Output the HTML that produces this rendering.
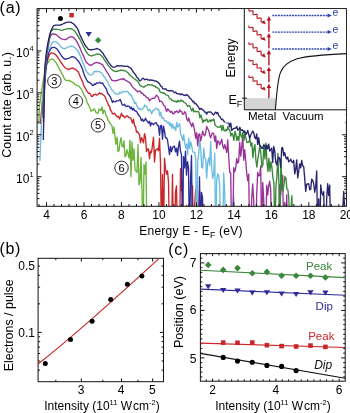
<!DOCTYPE html><html><head><meta charset="utf-8"><style>html,body{margin:0;padding:0;background:#fff;}svg{display:block;will-change:transform}</style></head><body>
<svg xmlns="http://www.w3.org/2000/svg" width="350" height="413" viewBox="0 0 350 413" font-family='"Liberation Sans", sans-serif'>
<rect width="350" height="413" fill="#fff"/>
<defs><clipPath id="ca"><rect x="37.1" y="8.6" width="309.3" height="197.7"/></clipPath></defs>
<g clip-path="url(#ca)" fill="none" stroke-width="1.35" stroke-linejoin="round">
<path stroke="#6cb43c" d="M38.9 124L39.3 107L41 95L43 82L45 70.05L46 66.86L47 64.19L48 62.76L49 61.38L50 59.74L51 59.37L52 59.05L53 59.4L54 60.31L55 61.44L56 62.4L57 64.36L58 66.24L59 68.35L60 70.14L61 71.92L62 73.87L63 75.56L64 77.88L65 79.57L66 80.45L67 80.42L68 80.74L69 80.28L70 81.37L71 81.23L72 81.93L73 82.83L74 82.96L75 84.87L76 84.98L77 85.64L78 85.82L79 86.08L80 87.64L81 88.55L82 90.57L83 92.41L84 95.02L85 96.54L86 98.41L87 102.32L88 103.89L89 106.26L90 107.95L91 111.34L92 110.48L93 110.4L94 108.75L95 110.24L96 112.38L97 113.03L98 113.33L99 109.06L100 109.45L101 110.63L102 106.86L103 113.77L104 110.12L105 111.23L106 115.83L107 116.6L108 120.23L109 121.4L110 123.21L111 124.7L112 125.81L113 133.31L114 127.27L115 136.87L116 144.2L117 137.16L118 151.52L119 150.68L120 142.48L121 137.69L122 145.74L123 146.94L124 140.69L125 156.92L126 155.53L127 149.69L128 153.6L129 157.76L130 140.39L131 176.68L132 141.96L133 160.12L134 148.93L135 169.7L136 171.11L137 172.46L138 144.61L139 184.75L140 182.55L141 157.47L142 191.15L143 240L144 164.42L145 174.02L146 161.97L147 240L148 240L149 240L150 240L151 240L152 240"/>
<path stroke="#c9262a" d="M40.4 124L42 105L44 85L45.5 69.77L46.5 64.17L47.5 60.27L48.5 57.32L49.5 54.6L50.5 53.74L51.5 52.66L52.5 53.06L53.5 53.47L54.5 53.83L55.5 54.61L56.5 55.75L57.5 56.94L58.5 58.66L59.5 59.9L60.5 61.61L61.5 63.01L62.5 64.41L63.5 65.89L64.5 66.91L65.5 68.19L66.5 68.43L67.5 69.14L68.5 69.56L69.5 68.84L70.5 68.93L71.5 68.22L72.5 68.15L73.5 68.39L74.5 69.18L75.5 69.1L76.5 70.21L77.5 71.35L78.5 72.35L79.5 74.71L80.5 77.46L81.5 79.51L82.5 81.62L83.5 84.79L84.5 86.75L85.5 88.56L86.5 90.32L87.5 91.79L88.5 93.23L89.5 93.15L90.5 94.39L91.5 96.41L92.5 96.54L93.5 94.65L94.5 94.91L95.5 94.1L96.5 94.99L97.5 94.95L98.5 93.95L99.5 92.67L100.5 93.86L101.5 93.27L102.5 94.71L103.5 94.93L104.5 95.97L105.5 97.65L106.5 100.6L107.5 102.08L108.5 105.56L109.5 106.02L110.5 110.51L111.5 111.14L112.5 113.92L113.5 113.73L114.5 113.09L115.5 114.98L116.5 116.12L117.5 116.94L118.5 116.11L119.5 118.94L120.5 116.55L121.5 113.15L122.5 115.98L123.5 115.74L124.5 117.68L125.5 117.04L126.5 115.97L127.5 115.83L128.5 117.45L129.5 117.54L130.5 117.85L131.5 120.06L132.5 123.07L133.5 119.08L134.5 125.65L135.5 126.36L136.5 132.17L137.5 131.54L138.5 133.42L139.5 134.31L140.5 142.72L141.5 137.57L142.5 139.89L143.5 142.92L144.5 133.63L145.5 137.76L146.5 151.61L147.5 149.11L148.5 148.77L149.5 158.64L150.5 151.1L151.5 152.49L152.5 144.85L153.5 137.39L154.5 161.95L155.5 150.01L156.5 149.89L157.5 148.55L158.5 150.71L159.5 138.08L160.5 163.51L161.5 240L162.5 174.55L163.5 240L164.5 158.09L165.5 169.06L166.5 174.11L167.5 170.8L168.5 181.94L169.5 240L170.5 240L171.5 240L172.5 174.51L173.5 240L174.5 240L175.5 192.05L176.5 186.01L177.5 240L178.5 240L179.5 240L180.5 168.66L181.5 190.46L182.5 180.57L183.5 240L184.5 240L185.5 240L186.5 205.36L187.5 240L188.5 240L189.5 240L190.5 240L191.5 240L192.5 185.66L193.5 240L194.5 207.11L195.5 192.72L196.5 186.42L197.5 240L198.5 240L199.5 190.97L200.5 208.16L201.5 240L202.5 240L203.5 240L204.5 210.25L205.5 208.22L206.5 240L207.5 240L208.5 240L209.5 240L210.5 240L211.5 240L212.5 240L213.5 240L214.5 240"/>
<path stroke="#2d2b96" d="M43.5 122L44.5 90L45.5 75.06L46.5 64.27L47.5 57.97L48.5 53.56L49.5 51.09L50.5 49.09L51.5 48.1L52.5 47.41L53.5 47.32L54.5 47.42L55.5 47.98L56.5 48.66L57.5 49.63L58.5 51.24L59.5 52.46L60.5 54.26L61.5 55.94L62.5 56.97L63.5 57.99L64.5 58.99L65.5 58.91L66.5 58.98L67.5 58.58L68.5 58.44L69.5 57.98L70.5 57.5L71.5 56.76L72.5 56.62L73.5 56.99L74.5 57.34L75.5 58L76.5 59.18L77.5 60.34L78.5 61.32L79.5 62.92L80.5 64.75L81.5 66.55L82.5 69.19L83.5 72.59L84.5 75.39L85.5 77.72L86.5 79.61L87.5 81.17L88.5 82.26L89.5 82.37L90.5 83.01L91.5 83.92L92.5 85.64L93.5 85.36L94.5 83.87L95.5 84.36L96.5 82.79L97.5 83.08L98.5 83L99.5 82.24L100.5 83.01L101.5 83.43L102.5 82.84L103.5 84.81L104.5 86.34L105.5 87.74L106.5 89.2L107.5 92.97L108.5 94.24L109.5 95.6L110.5 97.23L111.5 99.81L112.5 102.49L113.5 100.9L114.5 101.91L115.5 101.63L116.5 100.87L117.5 100.87L118.5 100.92L119.5 99.96L120.5 99.74L121.5 103.07L122.5 105.17L123.5 105.06L124.5 104.19L125.5 106.11L126.5 106.46L127.5 105.87L128.5 106.11L129.5 106.52L130.5 108.66L131.5 107.19L132.5 110.15L133.5 108.43L134.5 110.35L135.5 111.13L136.5 111.24L137.5 113.14L138.5 114.98L139.5 115.98L140.5 117.73L141.5 120.67L142.5 119.15L143.5 121.36L144.5 120.41L145.5 118.23L146.5 120.55L147.5 121.5L148.5 123.12L149.5 121.24L150.5 125.95L151.5 122.82L152.5 123.71L153.5 124.66L154.5 123.53L155.5 122.68L156.5 123L157.5 125.68L158.5 125.56L159.5 135.25L160.5 125.9L161.5 125.43L162.5 139.31L163.5 126.14L164.5 131.27L165.5 137.81L166.5 137.75L167.5 139.99L168.5 147.15L169.5 154.65L170.5 146.54L171.5 151.54L172.5 147.71L173.5 146.47L174.5 146.18L175.5 151.93L176.5 148.22L177.5 155.4L178.5 146.39L179.5 141.18L180.5 151.18L181.5 154.91L182.5 240L183.5 156.57L184.5 167.9L185.5 151.27L186.5 175.17L187.5 161.72L188.5 168.16L189.5 240L190.5 181.68L191.5 155.44L192.5 240L193.5 240L194.5 240L195.5 240L196.5 240L197.5 240L198.5 240L199.5 176.98L200.5 240L201.5 192.31L202.5 197.19L203.5 240L204.5 240L205.5 240L206.5 240L207.5 240L208.5 240L209.5 240"/>
<path stroke="#6cbde0" d="M39.9 161L41.2 130L42.5 100L43.5 90L44.5 80L45.7 64.89L46.7 54.92L47.7 50.3L48.7 49.27L49.7 48.48L50.7 45.97L51.7 43.38L52.7 42.53L53.7 41.81L54.7 41.33L55.7 41.75L56.7 42.24L57.7 43.18L58.7 43.95L59.7 45.35L60.7 46.65L61.7 47.71L62.7 48.27L63.7 48.37L64.7 48.73L65.7 48.27L66.7 47.68L67.7 47.05L68.7 46.88L69.7 46.55L70.7 46.09L71.7 46.28L72.7 46.27L73.7 46.99L74.7 47.58L75.7 48.49L76.7 49.55L77.7 50.57L78.7 52.38L79.7 54.37L80.7 56.75L81.7 59.86L82.7 62.41L83.7 64.34L84.7 66.81L85.7 70.2L86.7 71.96L87.7 72.72L88.7 74.01L89.7 74.46L90.7 75.2L91.7 74.85L92.7 73.91L93.7 72.06L94.7 71.45L95.7 71.47L96.7 71.32L97.7 71.5L98.7 71.47L99.7 71.91L100.7 72.28L101.7 73.16L102.7 74.32L103.7 76.33L104.7 76.91L105.7 78.81L106.7 80.37L107.7 81.91L108.7 84.47L109.7 86.44L110.7 87.77L111.7 89.85L112.7 90.11L113.7 91.91L114.7 92.92L115.7 94.05L116.7 93.97L117.7 94.24L118.7 94.12L119.7 92.05L120.7 93.06L121.7 92.92L122.7 91.42L123.7 91.75L124.7 91.45L125.7 91.72L126.7 91.5L127.7 91.48L128.7 93.07L129.7 94.78L130.7 94.54L131.7 96.36L132.7 99.1L133.7 100L134.7 103.49L135.7 102.4L136.7 105.11L137.7 107.24L138.7 109.29L139.7 108.19L140.7 109.47L141.7 109.75L142.7 108.4L143.7 107.75L144.7 104.85L145.7 106.32L146.7 106.53L147.7 109.92L148.7 110.81L149.7 109.25L150.7 111.4L151.7 113.9L152.7 110.71L153.7 110.81L154.7 109.52L155.7 108.09L156.7 108.36L157.7 110.02L158.7 109.21L159.7 115.67L160.7 112.32L161.7 117.76L162.7 117.51L163.7 118.58L164.7 121.05L165.7 120.58L166.7 121.77L167.7 122.97L168.7 121.86L169.7 125.58L170.7 122.97L171.7 128.19L172.7 124.09L173.7 128.68L174.7 126.98L175.7 130.65L176.7 122.46L177.7 127.1L178.7 125.29L179.7 123.73L180.7 134.86L181.7 135.9L182.7 140.81L183.7 134.69L184.7 142.57L185.7 148.07L186.7 143.87L187.7 154.68L188.7 138.28L189.7 148.34L190.7 141.86L191.7 145.89L192.7 151.72L193.7 152.32L194.7 152.15L195.7 158.78L196.7 240L197.7 160.46L198.7 154.52L199.7 139.89L200.7 148.5L201.7 167.54L202.7 168L203.7 148.16L204.7 157.87L205.7 159.4L206.7 178.08L207.7 162.37L208.7 157.83L209.7 165.52L210.7 141.32L211.7 168.31L212.7 178.38L213.7 174.18L214.7 153.25L215.7 240L216.7 179.95L217.7 173.83L218.7 175.32L219.7 185.84L220.7 240L221.7 240L222.7 240L223.7 172.94L224.7 192.96L225.7 240L226.7 240L227.7 240L228.7 240L229.7 240L230.7 240L231.7 240L232.7 207.22L233.7 196.15L234.7 240L235.7 240L236.7 240L237.7 207.56L238.7 240L239.7 240L240.7 240L241.7 240L242.7 240L243.7 240L244.7 240"/>
<path stroke="#9a3398" d="M42.3 115L44.7 75.32L45.7 63.35L46.7 55.56L47.7 48.95L48.7 43.65L49.7 38.31L50.7 35.72L51.7 34.65L52.7 33.64L53.7 34L54.7 34.23L55.7 34.45L56.7 35.03L57.7 36.02L58.7 36.86L59.7 37.77L60.7 38.35L61.7 38.86L62.7 39.18L63.7 39.43L64.7 39.64L65.7 39.5L66.7 39.18L67.7 38.35L68.7 37.54L69.7 37.15L70.7 36.87L71.7 36.74L72.7 37.13L73.7 37.7L74.7 38.73L75.7 39.82L76.7 41.33L77.7 43.37L78.7 45.17L79.7 47.32L80.7 49.8L81.7 52.19L82.7 54.12L83.7 56.36L84.7 59.03L85.7 61.33L86.7 62.43L87.7 63.5L88.7 64.29L89.7 64.79L90.7 65.54L91.7 64.95L92.7 64.36L93.7 63.49L94.7 63.1L95.7 62.58L96.7 62.35L97.7 62.6L98.7 63.07L99.7 63.04L100.7 63.87L101.7 64.15L102.7 64.89L103.7 66.62L104.7 68.25L105.7 70.06L106.7 71.67L107.7 73.12L108.7 74.74L109.7 76.55L110.7 78.35L111.7 80.02L112.7 80.66L113.7 80.62L114.7 80.96L115.7 80.57L116.7 80.8L117.7 80.07L118.7 79.98L119.7 79.47L120.7 79.23L121.7 78.88L122.7 79.47L123.7 78.44L124.7 79.64L125.7 80.41L126.7 80.97L127.7 81.46L128.7 82.13L129.7 82.67L130.7 83.79L131.7 85.91L132.7 87.15L133.7 88.28L134.7 88.84L135.7 90.17L136.7 90.55L137.7 91.76L138.7 91.38L139.7 90.84L140.7 92L141.7 93.47L142.7 93.22L143.7 95.26L144.7 95.17L145.7 96.54L146.7 97.48L147.7 97.59L148.7 99.5L149.7 100.68L150.7 99.04L151.7 98.86L152.7 98.15L153.7 98.47L154.7 98.14L155.7 96.15L156.7 95.32L157.7 96.39L158.7 98.12L159.7 101.49L160.7 101.12L161.7 101.6L162.7 102.89L163.7 105.44L164.7 105.65L165.7 108.82L166.7 111.56L167.7 108.79L168.7 110.07L169.7 111.04L170.7 112.35L171.7 111.32L172.7 113.72L173.7 114L174.7 111.7L175.7 112.23L176.7 110.91L177.7 112.04L178.7 112.76L179.7 109.8L180.7 111.48L181.7 111.6L182.7 114.37L183.7 113.86L184.7 111.68L185.7 112.96L186.7 118.77L187.7 120.92L188.7 117.96L189.7 122.18L190.7 123.8L191.7 126.57L192.7 123.03L193.7 126.17L194.7 131.17L195.7 138.03L196.7 132.8L197.7 145.6L198.7 134.61L199.7 133.91L200.7 140.9L201.7 136.27L202.7 131.17L203.7 134.46L204.7 135.89L205.7 132.83L206.7 126.38L207.7 128.91L208.7 130.42L209.7 135.22L210.7 137.91L211.7 133.69L212.7 133.18L213.7 133.5L214.7 141.28L215.7 135.86L216.7 148.39L217.7 140.91L218.7 141.48L219.7 144.76L220.7 142.47L221.7 139.21L222.7 145.68L223.7 148.75L224.7 144.64L225.7 148.08L226.7 152.28L227.7 139.81L228.7 156.47L229.7 172.17L230.7 173.11L231.7 240L232.7 240L233.7 167.67L234.7 171.78L235.7 168.33L236.7 158.47L237.7 163.06L238.7 161.58L239.7 142.45L240.7 156.11L241.7 147.23L242.7 135.83L243.7 160.25L244.7 149.73L245.7 160.45L246.7 172.76L247.7 180.59L248.7 174.06L249.7 240L250.7 240L251.7 199.29L252.7 183.99L253.7 200.77L254.7 240L255.7 240L256.7 194.89L257.7 172.43L258.7 175.8L259.7 175.58L260.7 165.89L261.7 240L262.7 182.32L263.7 198.99L264.7 240L265.7 240L266.7 185.44L267.7 194.97L268.7 185.55L269.7 181.24L270.7 189.54L271.7 240L272.7 240L273.7 240L274.7 240L275.7 240L276.7 240L277.7 240L278.7 240L279.7 184.77L280.7 194.77L281.7 184.32L282.7 175.31L283.7 240L284.7 202.37L285.7 240L286.7 194.89L287.7 240L288.7 240L289.7 240L290.7 214.46L291.7 240L292.7 240L293.7 240L294.7 240L295.7 240L296.7 240L297.7 240L298.7 240L299.7 240"/>
<path stroke="#3a863a" d="M42.8 118L44.9 69.93L45.9 59.17L46.9 52.05L47.9 45.88L48.9 40.43L49.9 36.62L50.9 31.68L51.9 30.39L52.9 29.65L53.9 29.11L54.9 29.2L55.9 29.24L56.9 29.4L57.9 29.4L58.9 29.63L59.9 29.81L60.9 30.08L61.9 30.31L62.9 30.06L63.9 29.7L64.9 29.41L65.9 29.07L66.9 28.9L67.9 28.81L68.9 28.75L69.9 28.66L70.9 28.7L71.9 29.21L72.9 29.75L73.9 30.21L74.9 31.49L75.9 32.91L76.9 34.37L77.9 35.88L78.9 37.67L79.9 39.4L80.9 41.25L81.9 43.28L82.9 45.21L83.9 47.32L84.9 49.34L85.9 51.38L86.9 52.66L87.9 53.98L88.9 55.07L89.9 55.46L90.9 55.85L91.9 55.95L92.9 55.47L93.9 55.17L94.9 54.86L95.9 54.32L96.9 53.98L97.9 54.19L98.9 54.26L99.9 54.35L100.9 55.36L101.9 56.28L102.9 57.21L103.9 59.04L104.9 60.47L105.9 62.08L106.9 63.53L107.9 65.05L108.9 66.36L109.9 67.37L110.9 68.68L111.9 69.57L112.9 70.48L113.9 71.07L114.9 71.17L115.9 71.5L116.9 71.11L117.9 71.24L118.9 70.53L119.9 70.67L120.9 70.06L121.9 70.09L122.9 70.65L123.9 70.37L124.9 70.8L125.9 71.25L126.9 72.02L127.9 72.79L128.9 74.01L129.9 75L130.9 75.95L131.9 76.82L132.9 77.83L133.9 78.47L134.9 79.04L135.9 79.91L136.9 80.55L137.9 81.67L138.9 83.31L139.9 85.25L140.9 85.8L141.9 86.35L142.9 86.78L143.9 87.23L144.9 86.2L145.9 85.82L146.9 85.4L147.9 84.59L148.9 84.64L149.9 85.12L150.9 85.11L151.9 84.7L152.9 85.7L153.9 86.04L154.9 85.86L155.9 87.44L156.9 87.49L157.9 88.19L158.9 88.75L159.9 91.66L160.9 92.61L161.9 92.55L162.9 93.32L163.9 92.9L164.9 93.7L165.9 94.81L166.9 95.19L167.9 95.3L168.9 97.28L169.9 98.92L170.9 98.83L171.9 100.59L172.9 100.52L173.9 100.96L174.9 101.65L175.9 101.2L176.9 102.32L177.9 100.28L178.9 101.53L179.9 101.31L180.9 99.8L181.9 101.15L182.9 100.79L183.9 102.41L184.9 102.67L185.9 103.44L186.9 105.02L187.9 106.5L188.9 105.41L189.9 106.35L190.9 108.85L191.9 110.99L192.9 108.14L193.9 111.77L194.9 111.16L195.9 111.79L196.9 111.84L197.9 111.35L198.9 112.17L199.9 117.82L200.9 115.05L201.9 118.62L202.9 122.48L203.9 119.98L204.9 121.18L205.9 119.85L206.9 119.15L207.9 122.18L208.9 121.33L209.9 119.9L210.9 121.76L211.9 119.7L212.9 120.42L213.9 118.98L214.9 124.54L215.9 125.98L216.9 126.53L217.9 127.3L218.9 127.2L219.9 127.16L220.9 125.39L221.9 130.66L222.9 125.47L223.9 130.25L224.9 131.04L225.9 129.52L226.9 130.64L227.9 126.44L228.9 129.48L229.9 130.1L230.9 136.11L231.9 133.11L232.9 134.83L233.9 140.37L234.9 131.31L235.9 134.72L236.9 140.69L237.9 136.5L238.9 140.54L239.9 127.21L240.9 135.91L241.9 137.49L242.9 132.61L243.9 140.46L244.9 133.29L245.9 137.94L246.9 142.53L247.9 142.34L248.9 141.62L249.9 139.45L250.9 146.04L251.9 142.76L252.9 157.73L253.9 148.33L254.9 144.55L255.9 160.07L256.9 167.17L257.9 158.49L258.9 152.27L259.9 145.43L260.9 154.02L261.9 167.38L262.9 164.75L263.9 144.07L264.9 158.86L265.9 143.12L266.9 161.11L267.9 171.52L268.9 158.49L269.9 171.1L270.9 161.62L271.9 167.15L272.9 178.18L273.9 182.25L274.9 240L275.9 186.7L276.9 177.15L277.9 153.39L278.9 184.08L279.9 240L280.9 159.98L281.9 183.69L282.9 190.56L283.9 185.06L284.9 176.48L285.9 178.13L286.9 189.02L287.9 189.8L288.9 199.58L289.9 240L290.9 210.37L291.9 195.58L292.9 240L293.9 208.68L294.9 240L295.9 240L296.9 240L297.9 240L298.9 240L299.9 240L300.9 240L301.9 240L302.9 240L303.9 240L304.9 240"/>
<path stroke="#27246e" d="M43.3 140L44.2 100L44.7 70.15L45.7 58.32L46.7 50.18L47.7 44.15L48.7 39.25L49.7 34.9L50.7 31.53L51.7 29L52.7 27.2L53.7 25.58L54.7 25.43L55.7 25.28L56.7 25.15L57.7 25.12L58.7 25.05L59.7 25.14L60.7 25.01L61.7 24.43L62.7 24.01L63.7 23.5L64.7 23.11L65.7 22.71L66.7 22.31L67.7 22.12L68.7 22.1L69.7 22.11L70.7 22.08L71.7 22.74L72.7 23.42L73.7 24L74.7 25.05L75.7 26.22L76.7 27.52L77.7 28.94L78.7 31.49L79.7 34.2L80.7 36.43L81.7 38.36L82.7 40.47L83.7 42.47L84.7 44.47L85.7 46.06L86.7 47.15L87.7 48.46L88.7 49.41L89.7 49.57L90.7 49.78L91.7 49.76L92.7 49.58L93.7 49.36L94.7 49.22L95.7 48.92L96.7 48.52L97.7 48.8L98.7 49.25L99.7 49.69L100.7 50.75L101.7 51.85L102.7 52.98L103.7 54.54L104.7 56.26L105.7 57.72L106.7 59.35L107.7 61L108.7 62.61L109.7 63.95L110.7 65.33L111.7 66.24L112.7 67.06L113.7 67.17L114.7 67.14L115.7 66.85L116.7 65.98L117.7 65.7L118.7 65.89L119.7 65.96L120.7 65.91L121.7 65.63L122.7 66.08L123.7 66.11L124.7 66.25L125.7 66.43L126.7 66.45L127.7 66.12L128.7 67.09L129.7 67.49L130.7 68.17L131.7 69.47L132.7 71.08L133.7 72.62L134.7 73.72L135.7 74.88L136.7 77.12L137.7 78.09L138.7 79.26L139.7 80.86L140.7 80.53L141.7 79.36L142.7 78.12L143.7 78.61L144.7 79.66L145.7 79.5L146.7 79.08L147.7 79.88L148.7 79.95L149.7 80.26L150.7 79.84L151.7 80.22L152.7 80.08L153.7 80.56L154.7 80.99L155.7 81.04L156.7 81.45L157.7 82.11L158.7 82.9L159.7 84.08L160.7 86.14L161.7 86.32L162.7 88.77L163.7 88.84L164.7 89.05L165.7 88.69L166.7 90.03L167.7 90.65L168.7 90.76L169.7 90.94L170.7 90.73L171.7 90.64L172.7 90.89L173.7 92.02L174.7 92.73L175.7 92.06L176.7 93.65L177.7 93.6L178.7 94.07L179.7 93.81L180.7 94.75L181.7 93.88L182.7 94.54L183.7 95.34L184.7 95.2L185.7 95.64L186.7 94.55L187.7 95.59L188.7 96.08L189.7 98.12L190.7 98.56L191.7 99.81L192.7 101.81L193.7 101.22L194.7 103.75L195.7 103.38L196.7 104.72L197.7 106.35L198.7 107.22L199.7 109.64L200.7 108.37L201.7 109.13L202.7 110.01L203.7 110.26L204.7 112.1L205.7 112.09L206.7 114.08L207.7 112.19L208.7 111.81L209.7 112.06L210.7 111.85L211.7 112.89L212.7 114.39L213.7 114.74L214.7 113.3L215.7 112.07L216.7 113.55L217.7 112.56L218.7 115.66L219.7 116.45L220.7 118.16L221.7 119.57L222.7 119.24L223.7 121.01L224.7 121.95L225.7 122.46L226.7 122.72L227.7 122.61L228.7 122.73L229.7 126.91L230.7 122.71L231.7 130.41L232.7 129.36L233.7 128.55L234.7 128.23L235.7 128.13L236.7 126.53L237.7 129.98L238.7 129.36L239.7 127.62L240.7 129.47L241.7 130.39L242.7 129.95L243.7 132.31L244.7 131.04L245.7 134.69L246.7 133.38L247.7 130.41L248.7 134.42L249.7 138.48L250.7 135L251.7 133.32L252.7 131L253.7 132.7L254.7 137.3L255.7 138.77L256.7 133.99L257.7 144.42L258.7 137.7L259.7 145.4L260.7 146.13L261.7 148.24L262.7 148.23L263.7 145.24L264.7 145.7L265.7 149.52L266.7 145.26L267.7 148.77L268.7 144.1L269.7 151.12L270.7 149.38L271.7 148.16L272.7 162.5L273.7 146.43L274.7 150.66L275.7 161.72L276.7 164.91L277.7 159.75L278.7 157.19L279.7 158.61L280.7 167.6L281.7 148L282.7 147.62L283.7 155.66L284.7 152.53L285.7 157.13L286.7 159.05L287.7 157.01L288.7 161.78L289.7 160.97L290.7 159.2L291.7 161.72L292.7 162.62L293.7 160.26L294.7 173.85L295.7 169.36L296.7 159.85L297.7 177.78L298.7 171.37L299.7 163.92L300.7 167.91L301.7 160.54L302.7 165.66L303.7 166.71L304.7 178.36L305.7 191.45L306.7 184.16L307.7 184.04L308.7 183.64L309.7 189.73L310.7 189.31L311.7 179.15L312.7 180.19L313.7 183.95L314.7 192.25L315.7 186.4L316.7 170.89L317.7 240L318.7 198.93L319.7 240L320.7 184.91L321.7 192.38L322.7 195.02L323.7 191.74L324.7 240L325.7 240L326.7 197.82L327.7 183.77L328.7 195.55L329.7 185.06L330.7 240L331.7 213.4L332.7 240L333.7 240L334.7 240L335.7 240L336.7 240L337.7 237.61L338.7 240L339.7 240L340.7 240L341.7 240L342.7 240L343.7 240L344.7 240"/>
<path stroke="#27246e" d="M342.6 212L343.7 191.5L344.8 212"/>
</g>
<g stroke="#111" stroke-width="1" fill="none">
<rect x="37.1" y="8.6" width="309.3" height="197.7"/>
<path d="M39 206.3v-2.3M39 8.6v2.3M46.5 206.3v-4M46.5 8.6v4M54 206.3v-2.3M54 8.6v2.3M61.49 206.3v-2.3M61.49 8.6v2.3M68.99 206.3v-2.3M68.99 8.6v2.3M76.48 206.3v-2.3M76.48 8.6v2.3M83.98 206.3v-4M83.98 8.6v4M91.48 206.3v-2.3M91.48 8.6v2.3M98.97 206.3v-2.3M98.97 8.6v2.3M106.47 206.3v-2.3M106.47 8.6v2.3M113.96 206.3v-2.3M113.96 8.6v2.3M121.46 206.3v-4M121.46 8.6v4M128.96 206.3v-2.3M128.96 8.6v2.3M136.45 206.3v-2.3M136.45 8.6v2.3M143.95 206.3v-2.3M143.95 8.6v2.3M151.44 206.3v-2.3M151.44 8.6v2.3M158.94 206.3v-4M158.94 8.6v4M166.44 206.3v-2.3M166.44 8.6v2.3M173.93 206.3v-2.3M173.93 8.6v2.3M181.43 206.3v-2.3M181.43 8.6v2.3M188.92 206.3v-2.3M188.92 8.6v2.3M196.42 206.3v-4M196.42 8.6v4M203.92 206.3v-2.3M203.92 8.6v2.3M211.41 206.3v-2.3M211.41 8.6v2.3M218.91 206.3v-2.3M218.91 8.6v2.3M226.4 206.3v-2.3M226.4 8.6v2.3M233.9 206.3v-4M233.9 8.6v4M241.4 206.3v-2.3M241.4 8.6v2.3M248.89 206.3v-2.3M256.39 206.3v-2.3M263.88 206.3v-2.3M271.38 206.3v-4M278.88 206.3v-2.3M286.37 206.3v-2.3M293.87 206.3v-2.3M301.36 206.3v-2.3M308.86 206.3v-4M316.36 206.3v-2.3M323.85 206.3v-2.3M331.35 206.3v-2.3M338.84 206.3v-2.3M37.1 198.62h2.3M346.4 198.62h-2.3M37.1 193.39h2.3M346.4 193.39h-2.3M37.1 189.32h2.3M346.4 189.32h-2.3M37.1 186h2.3M346.4 186h-2.3M37.1 183.2h2.3M346.4 183.2h-2.3M37.1 180.76h2.3M346.4 180.76h-2.3M37.1 178.62h2.3M346.4 178.62h-2.3M37.1 176.7h4.3M346.4 176.7h-4.3M37.1 164.08h2.3M346.4 164.08h-2.3M37.1 156.69h2.3M346.4 156.69h-2.3M37.1 151.46h2.3M346.4 151.46h-2.3M37.1 147.39h2.3M346.4 147.39h-2.3M37.1 144.07h2.3M346.4 144.07h-2.3M37.1 141.27h2.3M346.4 141.27h-2.3M37.1 138.83h2.3M346.4 138.83h-2.3M37.1 136.69h2.3M346.4 136.69h-2.3M37.1 134.77h4.3M346.4 134.77h-4.3M37.1 122.15h2.3M346.4 122.15h-2.3M37.1 114.76h2.3M346.4 114.76h-2.3M37.1 109.53h2.3M37.1 105.46h2.3M37.1 102.14h2.3M37.1 99.34h2.3M37.1 96.9h2.3M37.1 94.76h2.3M37.1 92.84h4.3M37.1 80.22h2.3M37.1 72.83h2.3M37.1 67.6h2.3M37.1 63.53h2.3M37.1 60.21h2.3M37.1 57.41h2.3M37.1 54.97h2.3M37.1 52.83h2.3M37.1 50.91h4.3M37.1 38.29h2.3M37.1 30.9h2.3M37.1 25.67h2.3M37.1 21.6h2.3M37.1 18.28h2.3M37.1 15.48h2.3M37.1 13.04h2.3M37.1 10.9h2.3"/>
</g>
<circle cx="60.4" cy="18.6" r="2.5" fill="#000"/>
<rect x="69.4" y="13" width="4.4" height="4.4" fill="#c9262a"/>
<path d="M85.6 31.9h6.2l-3.1 5z" fill="#2d2b96"/>
<path d="M98.1 37l3.2 3.2-3.2 3.2-3.2-3.2z" fill="#3a863a"/>
<circle cx="54.4" cy="81.2" r="6.75" fill="#fff" stroke="#222" stroke-width="0.95"/>
<text x="54.4" y="85.1" font-size="11" text-anchor="middle">3</text>
<circle cx="75.8" cy="101.3" r="6.75" fill="#fff" stroke="#222" stroke-width="0.95"/>
<text x="75.8" y="105.2" font-size="11" text-anchor="middle">4</text>
<circle cx="98.1" cy="125.3" r="6.75" fill="#fff" stroke="#222" stroke-width="0.95"/>
<text x="98.1" y="129.2" font-size="11" text-anchor="middle">5</text>
<circle cx="121.5" cy="167.9" r="6.75" fill="#fff" stroke="#222" stroke-width="0.95"/>
<text x="121.5" y="171.8" font-size="11" text-anchor="middle">6</text>
<text x="46.5" y="218.7" font-size="12" text-anchor="middle">4</text>
<text x="83.98" y="218.7" font-size="12" text-anchor="middle">6</text>
<text x="121.46" y="218.7" font-size="12" text-anchor="middle">8</text>
<text x="158.94" y="218.7" font-size="12" text-anchor="middle">10</text>
<text x="196.42" y="218.7" font-size="12" text-anchor="middle">12</text>
<text x="233.9" y="218.7" font-size="12" text-anchor="middle">14</text>
<text x="271.38" y="218.7" font-size="12" text-anchor="middle">16</text>
<text x="308.86" y="218.7" font-size="12" text-anchor="middle">18</text>
<text x="346.34" y="218.7" font-size="12" text-anchor="middle">20</text>
<text x="33.6" y="183" font-size="12" text-anchor="end">10<tspan font-size="7.5" dy="-6">1</tspan></text>
<text x="33.6" y="141.07" font-size="12" text-anchor="end">10<tspan font-size="7.5" dy="-6">2</tspan></text>
<text x="33.6" y="99.14" font-size="12" text-anchor="end">10<tspan font-size="7.5" dy="-6">3</tspan></text>
<text x="33.6" y="57.21" font-size="12" text-anchor="end">10<tspan font-size="7.5" dy="-6">4</tspan></text>
<text x="139.3" y="234.9" font-size="12" letter-spacing="0.22">Energy E - E<tspan font-size="8.8" dy="3.2">F</tspan><tspan dy="-3.2"> (eV)</tspan></text>
<text transform="translate(11.1 104.9) rotate(-90)" font-size="12.5" text-anchor="middle">Count rate (arb. u.)</text>
<text x="-0.5" y="12.9" font-size="16" letter-spacing="0.8">(a)</text>
<rect x="225" y="9.2" width="120.8" height="113.4" fill="#fff"/>
<rect x="244.3" y="98.2" width="31.3" height="11.6" fill="#d4d4d4"/>
<path d="M244.3 8.6V109.8H346.4 M242.1 98.2h4.8" stroke="#111" stroke-width="1" fill="none"/>
<path d="M275.4 109.8 C276.5 95 277.5 80 280.5 72.4 C283 66 289 61.5 297 58.8 C307 56 325 54.6 346.4 53.6" stroke="#111" stroke-width="1.1" fill="none"/>
<path d="M268.9 31.75V19.1" stroke="#b8141f" stroke-width="1.4" fill="none"/>
<path d="M268.9 16.1 l-2.2 4.4h4.4z" fill="#b8141f"/>
<path d="M268.9 48.6V35.95" stroke="#b8141f" stroke-width="1.4" fill="none"/>
<path d="M268.9 32.95 l-2.2 4.4h4.4z" fill="#b8141f"/>
<path d="M268.9 65.45V52.8" stroke="#b8141f" stroke-width="1.4" fill="none"/>
<path d="M268.9 49.8 l-2.2 4.4h4.4z" fill="#b8141f"/>
<path d="M268.9 82.3V69.65" stroke="#b8141f" stroke-width="1.4" fill="none"/>
<path d="M268.9 66.65 l-2.2 4.4h4.4z" fill="#b8141f"/>
<path d="M268.9 98.2V86.5" stroke="#b8141f" stroke-width="1.4" fill="none"/>
<path d="M268.9 83.5 l-2.2 4.4h4.4z" fill="#b8141f"/>
<path d="M249 9.1L248.92 9.66L248.89 10.17L248.93 10.6L249.08 10.91L249.34 11.09L249.71 11.15L250.17 11.11L250.7 10.99L251.25 10.85L251.79 10.73L252.26 10.68L252.65 10.72L252.93 10.88L253.09 11.18L253.15 11.59L253.12 12.09L253.05 12.65L252.97 13.21L252.93 13.73L252.95 14.17L253.08 14.5L253.33 14.7L253.68 14.78L254.14 14.75L254.66 14.64L255.21 14.5L255.75 14.37L256.24 14.31L256.64 14.33L256.93 14.48L257.11 14.76L257.18 15.15L257.16 15.64L257.09 16.19L257.01 16.75L256.96 17.28L256.98 17.74L257.09 18.08L257.32 18.31L257.66 18.4L258.1 18.38L258.62 18.28L259.17 18.15L259.71 18.02L260.21 17.94L260.62 17.95L260.93 18.08L261.12 18.34L261.21 18.71L261.2 19.19L261.14 19.74L261.06 20.3L261 20.84L261.01 21.31L261.11 21.67L261.32 21.91L261.64 22.02L262.07 22.02L262.58 21.93L263.12 21.79" stroke="#b8141f" stroke-width="1.1" fill="none"/>
<path d="M265.8 24.2L261.55 22.94L264.1 20.11z" fill="#b8141f"/>
<path d="M249 25.7L248.92 26.26L248.89 26.77L248.93 27.2L249.08 27.51L249.34 27.69L249.71 27.75L250.17 27.71L250.7 27.59L251.25 27.45L251.79 27.33L252.26 27.28L252.65 27.32L252.93 27.48L253.09 27.78L253.15 28.19L253.12 28.69L253.05 29.25L252.97 29.81L252.93 30.33L252.95 30.77L253.08 31.1L253.33 31.3L253.68 31.38L254.14 31.35L254.66 31.24L255.21 31.1L255.75 30.97L256.24 30.91L256.64 30.93L256.93 31.08L257.11 31.36L257.18 31.75L257.16 32.24L257.09 32.79L257.01 33.35L256.96 33.88L256.98 34.34L257.09 34.68L257.32 34.91L257.66 35L258.1 34.98L258.62 34.88L259.17 34.75L259.71 34.62L260.21 34.54L260.62 34.55L260.93 34.68L261.12 34.94L261.21 35.31L261.2 35.79L261.14 36.34L261.06 36.9L261 37.44L261.01 37.91L261.11 38.27L261.32 38.51L261.64 38.62L262.07 38.62L262.58 38.53L263.12 38.39" stroke="#b8141f" stroke-width="1.1" fill="none"/>
<path d="M265.8 40.8L261.55 39.54L264.1 36.71z" fill="#b8141f"/>
<path d="M249 42.3L248.92 42.86L248.89 43.37L248.93 43.8L249.08 44.11L249.34 44.29L249.71 44.35L250.17 44.31L250.7 44.19L251.25 44.05L251.79 43.93L252.26 43.88L252.65 43.92L252.93 44.08L253.09 44.38L253.15 44.79L253.12 45.29L253.05 45.85L252.97 46.41L252.93 46.93L252.95 47.37L253.08 47.7L253.33 47.9L253.68 47.98L254.14 47.95L254.66 47.84L255.21 47.7L255.75 47.57L256.24 47.51L256.64 47.53L256.93 47.68L257.11 47.96L257.18 48.35L257.16 48.84L257.09 49.39L257.01 49.95L256.96 50.48L256.98 50.94L257.09 51.28L257.32 51.51L257.66 51.6L258.1 51.58L258.62 51.48L259.17 51.35L259.71 51.22L260.21 51.14L260.62 51.15L260.93 51.28L261.12 51.54L261.21 51.91L261.2 52.39L261.14 52.94L261.06 53.5L261 54.04L261.01 54.51L261.11 54.87L261.32 55.11L261.64 55.22L262.07 55.22L262.58 55.13L263.12 54.99" stroke="#b8141f" stroke-width="1.1" fill="none"/>
<path d="M265.8 57.4L261.55 56.14L264.1 53.31z" fill="#b8141f"/>
<path d="M249 58.9L248.92 59.46L248.89 59.97L248.93 60.4L249.08 60.71L249.34 60.89L249.71 60.95L250.17 60.91L250.7 60.79L251.25 60.65L251.79 60.53L252.26 60.48L252.65 60.52L252.93 60.68L253.09 60.98L253.15 61.39L253.12 61.89L253.05 62.45L252.97 63.01L252.93 63.53L252.95 63.97L253.08 64.3L253.33 64.5L253.68 64.58L254.14 64.55L254.66 64.44L255.21 64.3L255.75 64.17L256.24 64.11L256.64 64.13L256.93 64.28L257.11 64.56L257.18 64.95L257.16 65.44L257.09 65.99L257.01 66.55L256.96 67.08L256.98 67.54L257.09 67.88L257.32 68.11L257.66 68.2L258.1 68.18L258.62 68.08L259.17 67.95L259.71 67.82L260.21 67.74L260.62 67.75L260.93 67.88L261.12 68.14L261.21 68.51L261.2 68.99L261.14 69.54L261.06 70.1L261 70.64L261.01 71.11L261.11 71.47L261.32 71.71L261.64 71.82L262.07 71.82L262.58 71.73L263.12 71.59" stroke="#b8141f" stroke-width="1.1" fill="none"/>
<path d="M265.8 74L261.55 72.74L264.1 69.91z" fill="#b8141f"/>
<path d="M249 75.5L248.92 76.06L248.89 76.57L248.93 77L249.08 77.31L249.34 77.49L249.71 77.55L250.17 77.51L250.7 77.39L251.25 77.25L251.79 77.13L252.26 77.08L252.65 77.12L252.93 77.28L253.09 77.58L253.15 77.99L253.12 78.49L253.05 79.05L252.97 79.61L252.93 80.13L252.95 80.57L253.08 80.9L253.33 81.1L253.68 81.18L254.14 81.15L254.66 81.04L255.21 80.9L255.75 80.77L256.24 80.71L256.64 80.73L256.93 80.88L257.11 81.16L257.18 81.55L257.16 82.04L257.09 82.59L257.01 83.15L256.96 83.68L256.98 84.14L257.09 84.48L257.32 84.71L257.66 84.8L258.1 84.78L258.62 84.68L259.17 84.55L259.71 84.42L260.21 84.34L260.62 84.35L260.93 84.48L261.12 84.74L261.21 85.11L261.2 85.59L261.14 86.14L261.06 86.7L261 87.24L261.01 87.71L261.11 88.07L261.32 88.31L261.64 88.42L262.07 88.42L262.58 88.33L263.12 88.19" stroke="#b8141f" stroke-width="1.1" fill="none"/>
<path d="M265.8 90.6L261.55 89.34L264.1 86.51z" fill="#b8141f"/>
<path d="M272.4 15.5H328" stroke="#2843aa" stroke-width="1.4" stroke-dasharray="1.9 0.9" fill="none"/>
<path d="M331.8 15.5 l-4.2 -2 v4z" fill="#2843aa"/>
<text x="332.6" y="15.9" font-size="10.5" fill="#2843aa">e</text>
<path d="M272.4 32.1H328" stroke="#2843aa" stroke-width="1.4" stroke-dasharray="1.9 0.9" fill="none"/>
<path d="M331.8 32.1 l-4.2 -2 v4z" fill="#2843aa"/>
<text x="332.6" y="32.5" font-size="10.5" fill="#2843aa">e</text>
<path d="M272.4 49H328" stroke="#2843aa" stroke-width="1.4" stroke-dasharray="1.9 0.9" fill="none"/>
<path d="M331.8 49 l-4.2 -2 v4z" fill="#2843aa"/>
<text x="332.6" y="49.4" font-size="10.5" fill="#2843aa">e</text>
<text transform="translate(235.2 57.9) rotate(-90)" font-size="12.3" text-anchor="middle">Energy</text>
<text x="228.4" y="103.7" font-size="12.4">E<tspan font-size="9" dy="3.4">F</tspan></text>
<text x="247.9" y="120.4" font-size="11.6">Metal</text>
<text x="282.6" y="120.4" font-size="11.4">Vacuum</text>
<g stroke="#111" stroke-width="1" fill="none">
<rect x="38.1" y="258.3" width="125.4" height="123.4"/>
<path d="M55.84 381.7v-1.9 M55.84 258.3v1.9M81.3 381.7v-3.3 M81.3 258.3v3.3M102.83 381.7v-1.9 M102.83 258.3v1.9M121.48 381.7v-3.3 M121.48 258.3v3.3M137.93 381.7v-1.9 M137.93 258.3v1.9M152.65 381.7v-3.3 M152.65 258.3v3.3M38.1 370.16h2 M163.5 370.16h-2M38.1 360.97h2 M163.5 360.97h-2M38.1 353.45h2 M163.5 353.45h-2M38.1 347.1h2 M163.5 347.1h-2M38.1 341.6h2 M163.5 341.6h-2M38.1 336.74h2 M163.5 336.74h-2M38.1 332.4h3.6 M163.5 332.4h-3.6M38.1 303.83h2 M163.5 303.83h-2M38.1 287.12h2 M163.5 287.12h-2M38.1 275.26h2 M163.5 275.26h-2M38.1 266.07h2 M163.5 266.07h-2"/>
</g>
<path d="M38.1 364 Q80.5 330.6 159.1 258.3" stroke="#c62828" stroke-width="1.15" fill="none"/>
<circle cx="45.3" cy="363.5" r="2.5" fill="#000"/>
<circle cx="70.5" cy="339.4" r="2.5" fill="#000"/>
<circle cx="92.1" cy="321.3" r="2.5" fill="#000"/>
<circle cx="110.7" cy="299.6" r="2.5" fill="#000"/>
<circle cx="127.4" cy="284.2" r="2.5" fill="#000"/>
<circle cx="141.9" cy="275.9" r="2.5" fill="#000"/>
<text x="34.9" y="270.37" font-size="12" text-anchor="end">0.5</text>
<text x="34.9" y="336.7" font-size="12" text-anchor="end">0.1</text>
<text x="81" y="394.3" font-size="12" text-anchor="middle">3</text>
<text x="121.18" y="394.3" font-size="12" text-anchor="middle">4</text>
<text x="152.35" y="394.3" font-size="12" text-anchor="middle">5</text>
<text transform="translate(13.1 371.2) rotate(-90)" font-size="12.45">Electrons / pulse</text>
<text x="44.2" y="409.6" font-size="12">Intensity (10<tspan font-size="7.5" dy="-4.4">11</tspan><tspan dy="4.4"> W</tspan><tspan dx="1">cm</tspan><tspan font-size="7.5" dy="-4.4">-2</tspan><tspan dy="4.4">)</tspan></text>
<text x="-0.5" y="254.4" font-size="16" letter-spacing="0.6">(b)</text>
<g stroke="#111" stroke-width="1" fill="none">
<rect x="200.4" y="253.6" width="144.8" height="127.6"/>
<path d="M206.27 381.2v-1.8 M206.27 253.6v1.8M212.6 381.2v-2.6 M212.6 253.6v2.6M218.93 381.2v-1.8 M218.93 253.6v1.8M225.26 381.2v-1.8 M225.26 253.6v1.8M231.59 381.2v-1.8 M231.59 253.6v1.8M237.92 381.2v-1.8 M237.92 253.6v1.8M244.25 381.2v-1.8 M244.25 253.6v1.8M250.58 381.2v-1.8 M250.58 253.6v1.8M256.91 381.2v-1.8 M256.91 253.6v1.8M263.24 381.2v-1.8 M263.24 253.6v1.8M269.57 381.2v-1.8 M269.57 253.6v1.8M275.9 381.2v-2.6 M275.9 253.6v2.6M282.23 381.2v-1.8 M282.23 253.6v1.8M288.56 381.2v-1.8 M288.56 253.6v1.8M294.89 381.2v-1.8 M294.89 253.6v1.8M301.22 381.2v-1.8 M301.22 253.6v1.8M307.55 381.2v-1.8 M307.55 253.6v1.8M313.88 381.2v-1.8 M313.88 253.6v1.8M320.21 381.2v-1.8 M320.21 253.6v1.8M326.54 381.2v-1.8 M326.54 253.6v1.8M332.87 381.2v-1.8 M332.87 253.6v1.8M339.2 381.2v-2.6 M339.2 253.6v2.6M200.4 376.9h2 M345.2 376.9h-2M200.4 372.15h2 M345.2 372.15h-2M200.4 367.4h2 M345.2 367.4h-2M200.4 362.65h2 M345.2 362.65h-2M200.4 357.9h4 M345.2 357.9h-4M200.4 353.15h2 M345.2 353.15h-2M200.4 348.4h2 M345.2 348.4h-2M200.4 343.65h2 M345.2 343.65h-2M200.4 338.9h2 M345.2 338.9h-2M200.4 334.15h2 M345.2 334.15h-2M200.4 329.4h2 M345.2 329.4h-2M200.4 324.65h2 M345.2 324.65h-2M200.4 319.9h2 M345.2 319.9h-2M200.4 315.15h2 M345.2 315.15h-2M200.4 310.4h4 M345.2 310.4h-4M200.4 305.65h2 M345.2 305.65h-2M200.4 300.9h2 M345.2 300.9h-2M200.4 296.15h2 M345.2 296.15h-2M200.4 291.4h2 M345.2 291.4h-2M200.4 286.65h2 M345.2 286.65h-2M200.4 281.9h2 M345.2 281.9h-2M200.4 277.15h2 M345.2 277.15h-2M200.4 272.4h2 M345.2 272.4h-2M200.4 267.65h2 M345.2 267.65h-2M200.4 262.9h4 M345.2 262.9h-4M200.4 258.15h2 M345.2 258.15h-2"/>
</g>
<g stroke-width="1.1" fill="none">
<path d="M200.4 270.2L345.2 277.6" stroke="#3a863a"/>
<path d="M200.4 289.1L345.2 295.3" stroke="#2d2b96"/>
<path d="M200.4 343.1L345.2 347.5" stroke="#c9262a"/>
<path d="M200.4 353.4L345.2 378.2" stroke="#111"/>
</g>
<path d="M208.2 261.6l3.3 3.3-3.3 3.3-3.3-3.3z" fill="#3a863a"/>
<path d="M223.2 266.6l3.3 3.3-3.3 3.3-3.3-3.3z" fill="#3a863a"/>
<path d="M237.5 264.8l3.3 3.3-3.3 3.3-3.3-3.3z" fill="#3a863a"/>
<path d="M252.3 270l3.3 3.3-3.3 3.3-3.3-3.3z" fill="#3a863a"/>
<path d="M266.9 268.6l3.3 3.3-3.3 3.3-3.3-3.3z" fill="#3a863a"/>
<path d="M281.6 272.5l3.3 3.3-3.3 3.3-3.3-3.3z" fill="#3a863a"/>
<path d="M296.1 272.5l3.3 3.3-3.3 3.3-3.3-3.3z" fill="#3a863a"/>
<path d="M310.5 272.5l3.3 3.3-3.3 3.3-3.3-3.3z" fill="#3a863a"/>
<path d="M325.4 274.1l3.3 3.3-3.3 3.3-3.3-3.3z" fill="#3a863a"/>
<path d="M205 284.2h6.4l-3.2 5z" fill="#2d2b96"/>
<path d="M220 288h6.4l-3.2 5z" fill="#2d2b96"/>
<path d="M234.3 288.5h6.4l-3.2 5z" fill="#2d2b96"/>
<path d="M249.1 290.4h6.4l-3.2 5z" fill="#2d2b96"/>
<path d="M263.7 290.2h6.4l-3.2 5z" fill="#2d2b96"/>
<path d="M278.4 291.5h6.4l-3.2 5z" fill="#2d2b96"/>
<path d="M292.9 292h6.4l-3.2 5z" fill="#2d2b96"/>
<path d="M307.3 290.3h6.4l-3.2 5z" fill="#2d2b96"/>
<path d="M322.2 290.5h6.4l-3.2 5z" fill="#2d2b96"/>
<rect x="220.9" y="340.3" width="4.6" height="4.6" fill="#c9262a"/>
<rect x="235.2" y="340.5" width="4.6" height="4.6" fill="#c9262a"/>
<rect x="250" y="340.3" width="4.6" height="4.6" fill="#c9262a"/>
<rect x="264.6" y="342.9" width="4.6" height="4.6" fill="#c9262a"/>
<rect x="279.3" y="343.8" width="4.6" height="4.6" fill="#c9262a"/>
<rect x="293.8" y="344.2" width="4.6" height="4.6" fill="#c9262a"/>
<rect x="308.2" y="343.3" width="4.6" height="4.6" fill="#c9262a"/>
<rect x="323.1" y="344.6" width="4.6" height="4.6" fill="#c9262a"/>
<circle cx="223.2" cy="357.4" r="2.55" fill="#000"/>
<circle cx="237.5" cy="361.1" r="2.55" fill="#000"/>
<circle cx="252.3" cy="362.2" r="2.55" fill="#000"/>
<circle cx="266.9" cy="365.4" r="2.55" fill="#000"/>
<circle cx="281.6" cy="366.4" r="2.55" fill="#000"/>
<circle cx="296.1" cy="370.6" r="2.55" fill="#000"/>
<text x="306" y="270" font-size="11.5" fill="#3a863a">Peak</text>
<text x="315.6" y="310" font-size="11.5" fill="#2d2b96">Dip</text>
<text x="308.2" y="340.3" font-size="11.5" fill="#c9262a">Peak</text>
<text x="314.2" y="369.3" font-size="12" font-style="italic" fill="#111">Dip</text>
<text x="196.4" y="362.5" font-size="12" text-anchor="end">5</text>
<text x="196.4" y="314.2" font-size="12" text-anchor="end">6</text>
<text x="196.4" y="267" font-size="12" text-anchor="end">7</text>
<text x="212.6" y="394.3" font-size="12" text-anchor="middle">2</text>
<text x="275.9" y="394.3" font-size="12" text-anchor="middle">4</text>
<text x="339.2" y="394.3" font-size="12" text-anchor="middle">6</text>
<text transform="translate(182.6 348.1) rotate(-90)" font-size="12.6">Position (eV)</text>
<text x="215.2" y="409.6" font-size="12">Intensity (10<tspan font-size="7.5" dy="-4.4">11</tspan><tspan dy="4.4"> W</tspan><tspan dx="1">cm</tspan><tspan font-size="7.5" dy="-4.4">-2</tspan><tspan dy="4.4">)</tspan></text>
<text x="168.2" y="254.9" font-size="16" letter-spacing="0.7">(c)</text>
</svg></body></html>
